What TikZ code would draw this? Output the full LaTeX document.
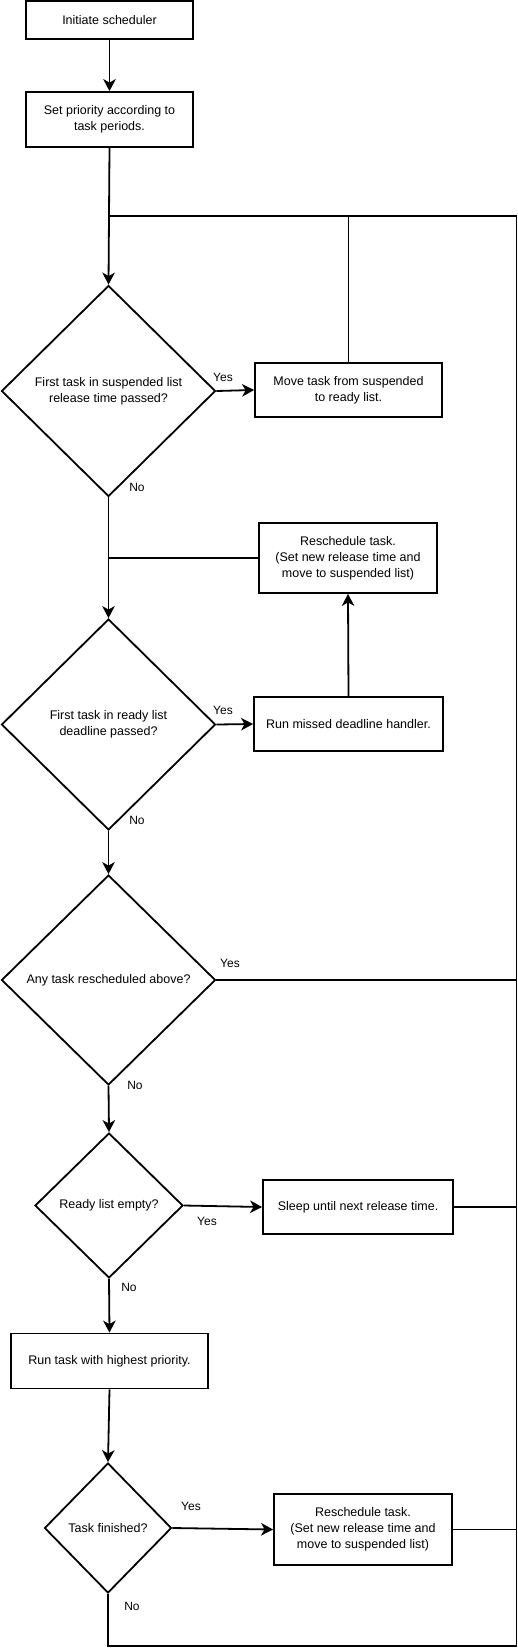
\documentclass[tikz,border=0pt]{standalone}
\usepackage{fontspec}
\setmainfont{Liberation Sans}
\usetikzlibrary{shapes.geometric,arrows.meta}
\begin{document}
\begin{tikzpicture}[x=1pt,y=-1pt,line width=1.8pt,
  every node/.style={font=\fontsize{12.5}{16}\selectfont, align=center, inner sep=0pt},
  box/.style={draw, rectangle},
  dec/.style={draw, diamond},
  lbl/.style={font=\fontsize{12}{14}\selectfont},
  arr/.style={-{Stealth[length=12pt,width=12.5pt,inset=3.5pt]}}]
\fill[white] (0,0) rectangle (518,1649);
\useasboundingbox (0,0) rectangle (518,1649);

\node[box, minimum width=167pt, minimum height=38pt] (init) at (109.5,20) {Initiate scheduler};
\node[box, minimum width=167pt, minimum height=55pt] (prio) at (109.5,119.5) {Set priority according to\\task periods.};
\node[dec, minimum width=214pt, minimum height=211pt] (d1) at (108.5,391) {First task in suspended list\\release time passed?};
\node[box, minimum width=187pt, minimum height=54.5pt] (move) at (348.5,390) {Move task from suspended\\to ready list.};
\node[box, minimum width=178pt, minimum height=70pt] (res1) at (348,558) {Reschedule task.\\(Set new release time and\\move to suspended list)};
\node[dec, minimum width=214pt, minimum height=211pt] (d2) at (108.5,724.5) {First task in ready list\\deadline passed?};
\node[box, minimum width=189pt, minimum height=54pt] (miss) at (348.5,724) {Run missed deadline handler.};
\node[dec, minimum width=214pt, minimum height=210pt] (d3) at (108.5,980) {Any task rescheduled above?};
\node[dec, minimum width=148pt, minimum height=145pt] (d4) at (109,1205.5) {Ready list empty?};
\node[box, minimum width=190pt, minimum height=54pt] (sleep) at (358,1207) {Sleep until next release time.};
\node[box, minimum width=197pt, minimum height=55pt] (run) at (109.5,1361) {Run task with highest priority.};
\node[dec, minimum width=127pt, minimum height=130pt] (d5) at (108,1528) {Task finished?};
\node[box, minimum width=178pt, minimum height=71pt] (res2) at (363,1529.5) {Reschedule task.\\(Set new release time and\\move to suspended list)};

\node[lbl] (y1) at (223,377) {Yes};
\node[lbl] (n1) at (137,487) {No};
\node[lbl] (y2) at (223,710) {Yes};
\node[lbl] (n2) at (137,820) {No};
\node[lbl] (y3) at (230,963) {Yes};
\node[lbl] (n3) at (135,1085) {No};
\node[lbl] (y4) at (207,1221) {Yes};
\node[lbl] (n4) at (129,1287) {No};
\node[lbl] (y5) at (191,1506) {Yes};
\node[lbl] (n5) at (132,1606) {No};

\coordinate (topL) at (108.5,216);
\coordinate (topR) at (516.5,216);
\coordinate (botR) at (516.5,1646);

\draw[arr] (init) -- (prio);
\draw[arr] (prio.south) -- (d1.north);
\draw (move.north) -- (move.north |- topL);
\draw[arr] (d1.east) -- (move.west);
\draw[arr] (d1.south) -- (d2.north);
\draw (res1.west) -- (res1.west -| d1.south);
\draw[arr] (miss.north) -- (res1.south);
\draw[arr] (d2.east) -- (miss.west);
\draw[arr] (d2.south) -- (d3.north);
\draw (d3.east) -- (d3.east -| topR);
\draw[arr] (d3.south) -- (d4.north);
\draw[arr] (d4.east) -- (sleep.west);
\draw (sleep.east) -- (sleep.east -| topR);
\draw[arr] (d4.south) -- (run.north);
\draw[arr] (run.south) -- (d5.north);
\draw[arr] (d5.east) -- (res2.west);
\draw (res2.east) -- (res2.east -| topR);
\draw (d5.south) |- (botR) -- (topR) -- (topL);
\end{tikzpicture}
\end{document}
